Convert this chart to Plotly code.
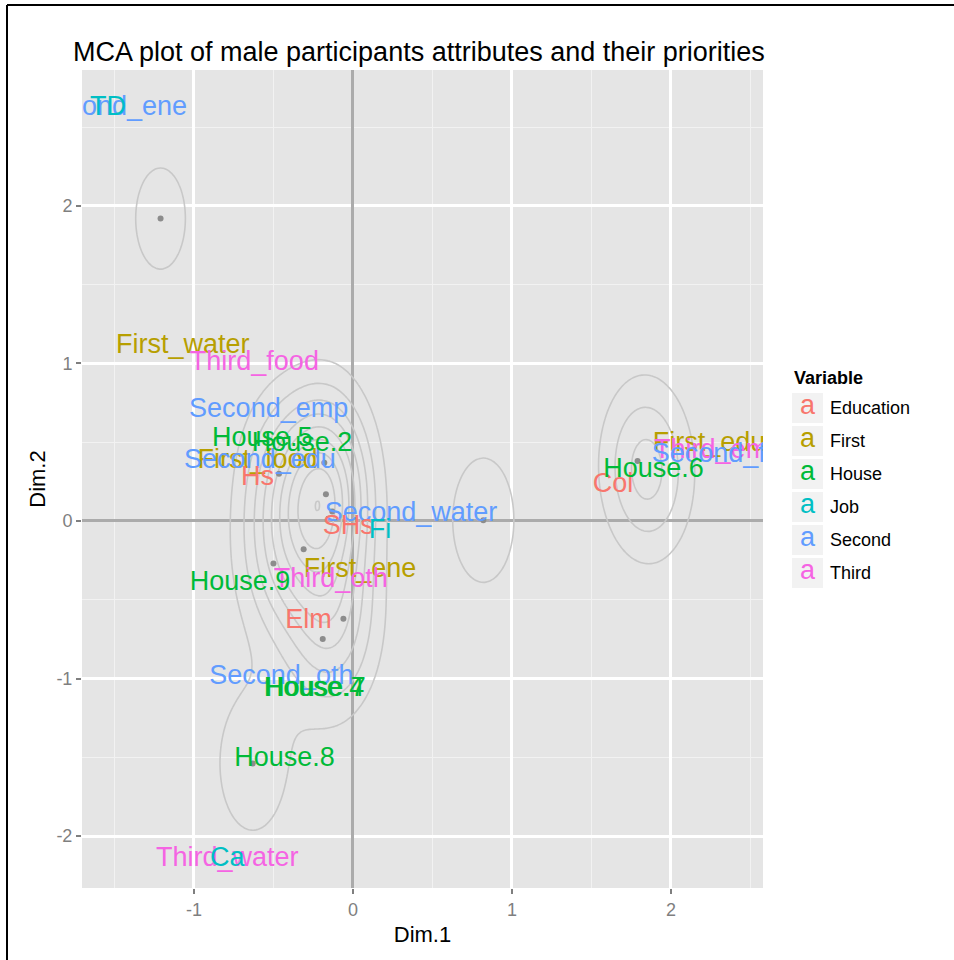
import numpy as np
import plotly.graph_objects as go

# ---------------- data ----------------
variables = ["Education", "First", "House", "Job", "Second", "Third"]
colors = {"Education": "#F8766D", "First": "#B79F00", "House": "#00BA38",
          "Job": "#00BFC4", "Second": "#619CFF", "Third": "#F564E3"}

cat_label = ["Hs", "SHs", "Elm", "Col",
             "First_water", "First_food", "First_ene", "First_edu",
             "House.5", "House.2", "House.9", "House.4", "House.7", "House.8", "House.6",
             "TD", "Fi", "Ca",
             "Second_ene", "Second_emp", "Second_edu", "Second_water", "Second_oth", "Second_food",
             "Third_food", "Third_oth", "Third_water", "Third_emp"]
cat_var = ["Education"] * 4 + ["First"] * 4 + ["House"] * 7 + ["Job"] * 3 + ["Second"] * 6 + ["Third"] * 4
cat_dim1 = [-0.60, -0.03, -0.28, 1.635,
            -1.07, -0.60, 0.045, 2.24,
            -0.57, -0.32, -0.71, -0.245, -0.235, -0.43, 1.89,
            -1.54, 0.17, -0.79,
            -1.52, -0.53, -0.585, 0.365, -0.45, 2.38,
            -0.62, -0.14, -0.79, 2.30]
cat_dim2 = [0.27, -0.04, -0.635, 0.23,
            1.11, 0.38, -0.31, 0.49,
            0.52, 0.49, -0.395, -1.07, -1.07, -1.51, 0.32,
            2.62, -0.065, -2.15,
            2.62, 0.70, 0.38, 0.045, -0.99, 0.42,
            1.00, -0.375, -2.15, 0.44]

ind_dim1 = [-1.21, -0.465, -0.18, -0.17, -0.13, -0.31, -0.50, -0.06, -0.19, -0.63, 0.82, 1.79, 1.90]
ind_dim2 = [1.92, 0.30, 0.37, 0.17, 0.06, -0.18, -0.27, -0.62, -0.75, -1.54, 0.005, 0.38, 0.28]
ind_weight = [1, 1.5, 1.8, 1.8, 1.4, 1.4, 1.3, 1.3, 1.3, 1.3, 1.2, 1.2, 1.3]

x_ticks = [-1, 0, 1, 2]
x_ticktext = ["-1", "0", "1", "2"]
y_ticks = [-2, -1, 0, 1, 2]
y_ticktext = ["-2", "-1", "0", "1", "2"]

# ---------------- 2D density of individuals ----------------
sx, sy = 0.185, 0.38
gx = np.linspace(-1.75, 2.62, 300)
gy = np.linspace(-2.4, 2.9, 300)
GX, GY = np.meshgrid(gx, gy)
Z = np.zeros_like(GX)
for x0, y0, w in zip(ind_dim1, ind_dim2, ind_weight):
    Z += w * np.exp(-((GX - x0) ** 2 / (2 * sx ** 2) + (GY - y0) ** 2 / (2 * sy ** 2)))

FONT = "Liberation Sans, Arial, sans-serif"
fig = go.Figure()

fig.add_trace(go.Contour(
    x=gx, y=gy, z=Z, showscale=False, hoverinfo="skip",
    contours=dict(coloring="lines", start=0.7, end=14, size=0.7),
    colorscale=[[0, "#C8C8C8"], [1, "#C8C8C8"]],
    line=dict(width=1.6), showlegend=False))

# visible individual points (the last one sits under the House.6 label)
fig.add_trace(go.Scatter(
    x=ind_dim1[:-1], y=ind_dim2[:-1], mode="markers",
    marker=dict(color="#8C8C8C", size=6), showlegend=False, hoverinfo="skip"))

draw_order = ["First", "Third", "Second", "Education", "House", "Job"]
for v in draw_order:
    idx = [i for i, c in enumerate(cat_var) if c == v]
    fig.add_trace(go.Scatter(
        x=[cat_dim1[i] for i in idx], y=[cat_dim2[i] for i in idx],
        text=[cat_label[i] for i in idx], mode="text", name=v,
        textposition="middle center",
        textfont=dict(color=colors[v], size=27, family=FONT),
        showlegend=False, cliponaxis=True))

# ---------------- layout ----------------
L, R, T, B = 82, 763, 70, 888
W, H = 954, 960


def px2paper(px, py):
    return (px - L) / (R - L), (B - py) / (B - T)


axis_common = dict(
    showgrid=True, gridcolor="white", gridwidth=2.5,
    zeroline=True, zerolinecolor="#ABABAB", zerolinewidth=2.5,
    ticks="outside", ticklen=5, tickwidth=2, tickcolor="#7F7F7F",
    tickfont=dict(size=18, color="#7F7F7F", family=FONT),
    showline=False,
)

fig.update_layout(
    width=W, height=H,
    margin=dict(l=L, r=W - R, t=T, b=H - B),
    paper_bgcolor="white", plot_bgcolor="#E5E5E5",
    font=dict(family=FONT),
    title=dict(text="MCA plot of male participants attributes and their priorities",
               x=73 / W, xanchor="left", xref="container",
               y=1 - 52 / H, yanchor="middle", yref="container",
               font=dict(size=27, color="black", family=FONT)),
    xaxis=dict(range=[-1.704, 2.579], tickvals=x_ticks, ticktext=x_ticktext,
               minor=dict(tickvals=[-1.5, -0.5, 0.5, 1.5, 2.5], showgrid=True,
                          gridcolor="#F2F2F2", gridwidth=1.2, ticks=""),
               title=dict(text="Dim.1", standoff=8,
                          font=dict(size=22, color="black", family=FONT)),
               **axis_common),
    yaxis=dict(range=[-2.33, 2.863], tickvals=y_ticks, ticktext=y_ticktext,
               minor=dict(tickvals=[-1.5, -0.5, 0.5, 1.5, 2.5], showgrid=True,
                          gridcolor="#F2F2F2", gridwidth=1.2, ticks=""),
               title=dict(text="Dim.2", standoff=4,
                          font=dict(size=22, color="black", family=FONT)),
               **axis_common),
    showlegend=False,
)

shapes = []
annotations = []

# manual legend
tx, ty = px2paper(792, 378)
annotations.append(dict(text="<b>Variable</b>", x=tx, y=ty, xref="paper", yref="paper",
                        xanchor="left", yanchor="middle", showarrow=False,
                        font=dict(size=18, color="black", family=FONT)))
for i, v in enumerate(variables):
    cy = 408 + 33 * i
    x0, y0 = px2paper(792, cy + 15)
    x1, y1 = px2paper(823, cy - 15)
    shapes.append(dict(type="rect", xref="paper", yref="paper", x0=x0, y0=y0, x1=x1, y1=y1,
                       fillcolor="#F2F2F2", line=dict(width=0), layer="below"))
    ax, ay = px2paper(807.5, cy - 3)
    annotations.append(dict(text="a", x=ax, y=ay, xref="paper", yref="paper",
                            xanchor="center", yanchor="middle", showarrow=False,
                            font=dict(size=27, color=colors[v], family=FONT)))
    lx, ly = px2paper(828, cy)
    annotations.append(dict(text=v, x=lx, y=ly, xref="paper", yref="paper",
                            xanchor="left", yanchor="middle", showarrow=False,
                            font=dict(size=18, color="black", family=FONT)))

# outer frame (left and top edges)
fx0, fy0 = px2paper(7, 960)
fx1, fy1 = px2paper(954, 5)
shapes.append(dict(type="line", xref="paper", yref="paper", x0=fx0, y0=fy0, x1=fx0, y1=fy1,
                   line=dict(color="black", width=2)))
shapes.append(dict(type="line", xref="paper", yref="paper", x0=fx0, y0=fy1, x1=fx1, y1=fy1,
                   line=dict(color="black", width=2)))

fig.update_layout(shapes=shapes, annotations=annotations)
fig.write_html("out.html", config={"displayModeBar": False},
               post_script="document.body.style.margin='0px';document.body.style.overflow='hidden';")
